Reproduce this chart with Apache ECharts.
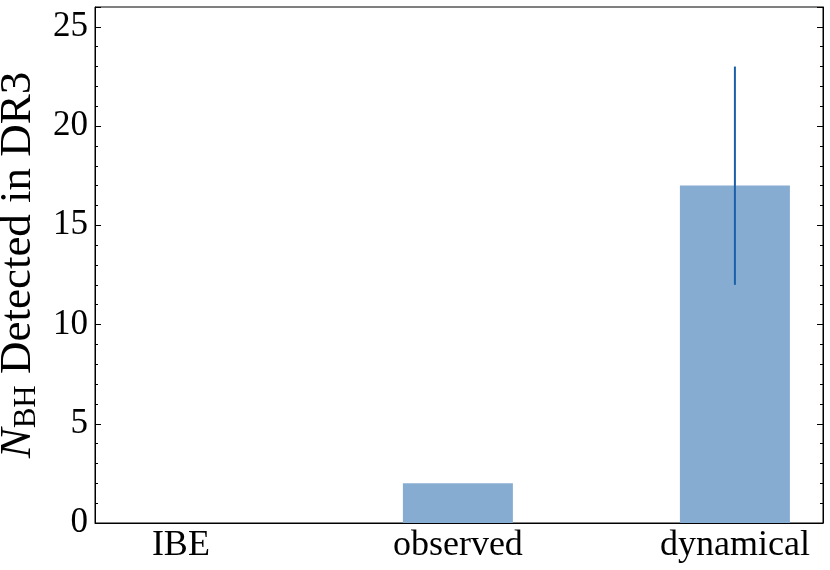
<!DOCTYPE html>
<html>
<head>
<meta charset="utf-8">
<script src="https://cdn.jsdelivr.net/npm/echarts@6/dist/echarts.min.js"></script>
<style>
  html, body { margin: 0; padding: 0; background: #fff; }
  #chart { width: 830px; height: 570px; }
</style>
</head>
<body>
<div id="chart"></div>
<script>
// data
var categories = ['IBE', 'observed', 'dynamical'];
var counts = [0, 2, 17];
var errLow = [null, null, 12];
var errHigh = [null, null, 23];

var serif = '"Liberation Serif", "DejaVu Serif", serif';
var barColor = '#87acd2';
var errColor = '#1b5fa8';

var chart = echarts.init(document.getElementById('chart'));

var barData = counts.map(function(v, i) { return [i, v]; });
var errData = [];
for (var i = 0; i < categories.length; i++) {
  if (errLow[i] != null) errData.push([i, errLow[i], errHigh[i]]);
}

function yAxisCfg(pos, showLabel) {
  return {
    type: 'value',
    position: pos,
    min: 0, max: 26, interval: 5,
    axisLine: { show: true, onZero: false, lineStyle: { color: '#000', width: 1 } },
    axisTick: { show: true, inside: true, length: 6, lineStyle: { color: '#000' } },
    minorTick: { show: true, splitNumber: 5, length: 3, lineStyle: { color: '#000' } },
    splitLine: { show: false },
    axisLabel: { show: showLabel, color: '#000', fontFamily: serif, fontSize: 35, margin: 7 },
    name: showLabel ? '{n|N}{sub|BH} Detected in DR3' : '',
    nameLocation: 'middle',
    nameGap: 52,
    nameTextStyle: {
      color: '#000', fontFamily: serif, fontSize: 45,
      rich: {
        n: { fontFamily: serif, fontSize: 45, fontStyle: 'italic', color: '#000' },
        sub: { fontFamily: serif, fontSize: 31, color: '#000', padding: [16, 0, 0, 0] }
      }
    }
  };
}

var option = {
  animation: false,
  backgroundColor: '#fff',
  grid: {
    left: 95, right: 7, top: 7, bottom: 47,
    show: true, borderColor: '#000', borderWidth: 1,
    outerBoundsMode: 'none'
  },
  xAxis: {
    type: 'value',
    min: -0.31, max: 2.318,
    axisLine: { show: true, onZero: false, lineStyle: { color: '#000' } },
    axisTick: { show: false },
    splitLine: { show: false },
    axisLabel: {
      customValues: [0, 1, 2],
      color: '#000', fontFamily: serif, fontSize: 36, margin: 5,
      formatter: function(v) { return categories[Math.round(v)]; }
    }
  },
  yAxis: [yAxisCfg('left', true), yAxisCfg('right', false)],
  series: [
    {
      type: 'bar',
      data: barData,
      barWidth: 110,
      itemStyle: { color: barColor },
      silent: true
    },
    {
      type: 'custom',
      data: errData,
      renderItem: function(params, api) {
        var lo = api.coord([api.value(0), api.value(1)]);
        var hi = api.coord([api.value(0), api.value(2)]);
        return {
          type: 'line',
          shape: { x1: lo[0], y1: lo[1], x2: hi[0], y2: hi[1] },
          style: { stroke: errColor, lineWidth: 2 }
        };
      },
      z: 5
    }
  ]
};

chart.setOption(option);
</script>
</body>
</html>
